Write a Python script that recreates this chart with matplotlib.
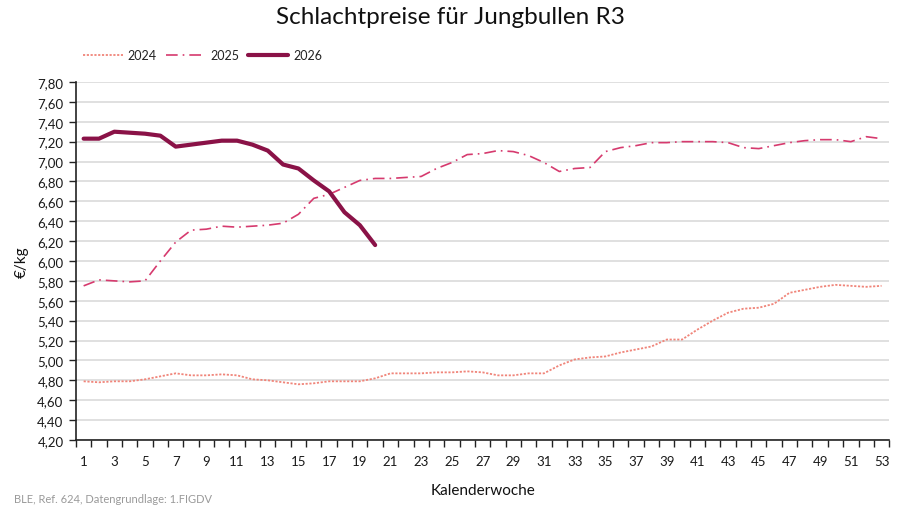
import matplotlib
matplotlib.use("Agg")
import matplotlib.pyplot as plt
import numpy as np

plt.rcParams['font.family'] = ['Lato', 'DejaVu Sans']

weeks = list(range(1, 54))
v2024 = [4.79, 4.78, 4.79, 4.79, 4.81, 4.84, 4.87, 4.85, 4.85, 4.86,
         4.85, 4.81, 4.80, 4.78, 4.76, 4.77, 4.79, 4.79, 4.79, 4.82,
         4.87, 4.87, 4.87, 4.88, 4.88, 4.89, 4.88, 4.85, 4.85, 4.87,
         4.87, 4.95, 5.01, 5.03, 5.04, 5.08, 5.11, 5.14, 5.21, 5.21,
         5.31, 5.40, 5.48, 5.52, 5.53, 5.57, 5.68, 5.71, 5.74, 5.76,
         5.75, 5.74, 5.75]
v2025 = [5.75, 5.81, 5.80, 5.79, 5.80, 6.00, 6.19, 6.31, 6.32, 6.35,
         6.34, 6.35, 6.36, 6.38, 6.47, 6.63, 6.67, 6.74, 6.81, 6.83,
         6.83, 6.84, 6.85, 6.93, 6.99, 7.07, 7.08, 7.11, 7.10, 7.06,
         6.99, 6.90, 6.93, 6.94, 7.10, 7.14, 7.16, 7.19, 7.19, 7.20,
         7.20, 7.20, 7.19, 7.14, 7.13, 7.16, 7.19, 7.21, 7.22, 7.22,
         7.20, 7.25, 7.23]
v2026 = [7.23, 7.23, 7.30, 7.29, 7.28, 7.26, 7.15, 7.17, 7.19, 7.21,
         7.21, 7.17, 7.11, 6.97, 6.93, 6.81, 6.70, 6.49, 6.36, 6.16]

yticks = np.round(np.arange(4.2, 7.81, 0.2), 2)
xlabels = list(range(1, 54, 2))

fig = plt.figure(figsize=(9, 5.06), dpi=100)
ax = fig.add_axes([0.0844, 0.1285, 0.9036, 0.7075])

c2024 = '#F0857A'
c2025 = '#D63A6E'
c2026 = '#8A1247'

ax.plot(weeks, v2024, color=c2024, lw=1.3, ls=(0, (1.2, 0.9)), label='2024')
ax.plot(weeks, v2025, color=c2025, lw=1.2, ls=(0, (7, 3, 1, 3)), label='2025')
ax.plot(weeks[:len(v2026)], v2026, color=c2026, lw=3.0, label='2026',
        solid_capstyle='round', solid_joinstyle='round')

ax.set_xlim(0.5, 53.5)
ax.set_ylim(4.2, 7.8)
ax.set_yticks(yticks)
ax.set_yticklabels([f"{v:.2f}".replace('.', ',') for v in yticks],
                   fontsize=9.5, color='#1a1a1a')
ax.set_xticks(xlabels)
ax.set_xticklabels([str(v) for v in xlabels], fontsize=9.5, color='#1a1a1a')
ax.set_xticks(np.arange(0.5, 53.6, 1), minor=True)
ax.tick_params(axis='x', which='major', length=0, pad=11)
ax.tick_params(axis='x', which='minor', length=5, width=1, color='#222222', direction='out')
ax.tick_params(axis='y', length=5, width=1, color='#222222', direction='out', pad=4)

ax.grid(axis='y', color='#DADADA', lw=1.2)
ax.set_axisbelow(True)
for s in ['top', 'right']:
    ax.spines[s].set_visible(False)
ax.spines['left'].set_color('#222222')
ax.spines['bottom'].set_color('#222222')
ax.spines['left'].set_linewidth(1.2)
ax.spines['bottom'].set_linewidth(1.2)

ax.set_xlabel('Kalenderwoche', fontsize=11, color='#111111', labelpad=11)
ax.set_ylabel('€/kg', fontsize=11, color='#111111', labelpad=6)

fig.text(0.5, 0.965, 'Schlachtpreise für Jungbullen R3', ha='center', va='center',
         fontsize=17.5, color='#111111')

leg = fig.legend(loc='center left', bbox_to_anchor=(0.0794, 0.889), ncol=3, frameon=False,
                 fontsize=9, handlelength=3.2, handletextpad=0.4, columnspacing=0.7)
for t in leg.get_texts():
    t.set_color('#222222')

fig.text(0.015, 0.002, 'BLE, Ref. 624, Datengrundlage: 1.FIGDV', fontsize=8,
         color='#9A9A9A', ha='left', va='bottom')

fig.savefig('out.png', dpi=100)
